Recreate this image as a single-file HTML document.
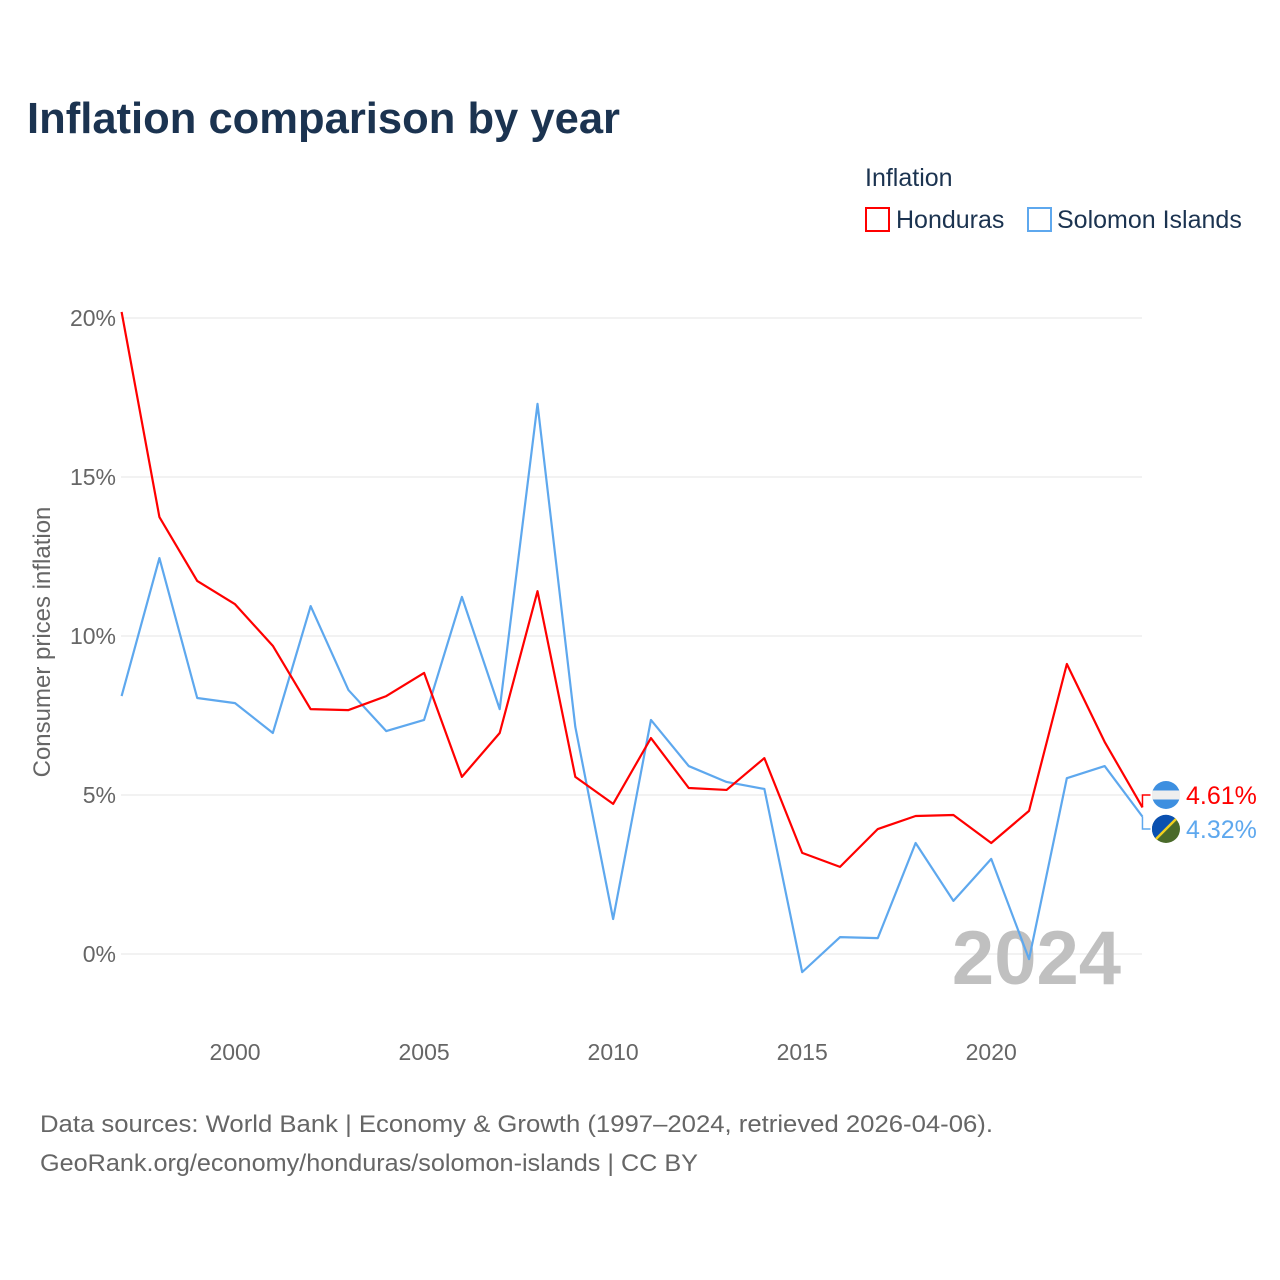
<!DOCTYPE html>
<html><head><meta charset="utf-8"><style>
body{margin:0;background:#fff;font-family:"Liberation Sans",sans-serif}
#wrap{position:relative;width:1280px;height:1280px;overflow:hidden}
</style></head><body>
<div id="wrap">
<svg id="chart" width="1280" height="1280">
<text x="27" y="133" font-size="44" font-weight="bold" fill="#1b3350" textLength="593" lengthAdjust="spacingAndGlyphs">Inflation comparison by year</text>
<text x="865" y="186" font-size="25" fill="#1b3350">Inflation</text>
<g><rect x="866" y="208" width="23" height="23" fill="#fff" stroke="#ff0000" stroke-width="2"/><text x="896" y="228" font-size="25" fill="#1b3350">Honduras</text></g>
<g><rect x="1028" y="208" width="23" height="23" fill="#fff" stroke="#5ea8ee" stroke-width="2"/><text x="1057" y="228" font-size="25" fill="#1b3350">Solomon Islands</text></g>
<text transform="translate(50,642) rotate(-90)" text-anchor="middle" font-size="24" fill="#666">Consumer prices inflation</text>
<g id="grid"></g><g id="xt"></g>
<text x="1121" y="984" text-anchor="end" font-size="76" font-weight="bold" fill="#c0c0c0">2024</text>
<g id="lines"></g>
<text x="40" y="1132" font-size="24" fill="#666" textLength="953" lengthAdjust="spacingAndGlyphs">Data sources: World Bank | Economy &amp; Growth (1997–2024, retrieved 2026-04-06).</text>
<text x="40" y="1171" font-size="24" fill="#666" textLength="658" lengthAdjust="spacingAndGlyphs">GeoRank.org/economy/honduras/solomon-islands | CC BY</text>
</svg></div>
<script>
const years=[1997,1998,1999,2000,2001,2002,2003,2004,2005,2006,2007,2008,2009,2010,2011,2012,2013,2014,2015,2016,2017,2018,2019,2020,2021,2022,2023,2024];
const honduras=[20.19,13.74,11.73,11.0,9.69,7.70,7.67,8.11,8.84,5.57,6.95,11.41,5.57,4.72,6.79,5.22,5.16,6.16,3.18,2.74,3.93,4.34,4.37,3.49,4.50,9.12,6.67,4.61];
const solomon=[8.11,12.45,8.05,7.89,6.95,10.94,8.30,7.01,7.36,11.23,7.70,17.30,7.14,1.10,7.36,5.91,5.41,5.19,-0.57,0.53,0.50,3.49,1.67,2.99,-0.16,5.53,5.91,4.32];
const yTicks=[0,5,10,15,20];
const xTicks=[2000,2005,2010,2015,2020];
const NS="http://www.w3.org/2000/svg";
const X=y=>121.6+(y-1997)*37.81, Y=v=>954-v*31.8;
function mk(t,a,p){const e=document.createElementNS(NS,t);for(const k in a)e.setAttribute(k,a[k]);p.appendChild(e);return e;}
const grid=document.getElementById('grid'),xt=document.getElementById('xt'),lines=document.getElementById('lines');
yTicks.forEach(v=>{
 const l=mk('line',{x1:121,x2:1142,y1:Y(v),y2:Y(v),stroke:'#e6e6e6','stroke-width':1},grid);
 
 
 const t=mk('text',{x:116,y:Y(v)+8,'text-anchor':'end','font-size':23,fill:'#666'},grid);
 t.textContent=v+'%';
 
 
});
xTicks.forEach(v=>{
 const t=mk('text',{x:X(v),y:1060,'text-anchor':'middle','font-size':23,fill:'#666'},xt);
 t.textContent=v;
 
 
});
function series(d,c,name){
 const p=mk('polyline',{points:d.map((v,i)=>X(years[i])+','+Y(v)).join(' '),fill:'none',stroke:c,'stroke-width':2.2,'stroke-linejoin':'round'},lines);
 
 
}
series(solomon,'#5ea8ee','solomon-islands');
series(honduras,'#ff0000','honduras');
const lx=X(2024);
function endLabel(v,ly,c,name,flag){
 const g=mk('g',{},lines);
 
 
 mk('polyline',{points:`${lx},${Y(v)} ${lx},${ly} ${lx+8},${ly}`,fill:'none',stroke:c,'stroke-width':1.5},g);
 flag(g,1166,ly);
 const t=mk('text',{x:1186,y:ly+9,'font-size':25,fill:c},g);
 t.textContent=v.toFixed(2)+'%';
}
endLabel(honduras[27],795,'#ff0000','honduras',(g,cx,cy)=>{
 mk('circle',{cx,cy,r:14,fill:'#3d8fe0'},g);
 mk('rect',{x:cx-14,y:cy-4.5,width:28,height:9,fill:'#eee'},g);
});
endLabel(solomon[27],829,'#5ea8ee','solomon-islands',(g,cx,cy)=>{
 mk('circle',{cx,cy,r:14,fill:'#4a6a2a'},g);
 mk('path',{d:`M${cx-14},${cy} A14,14 0 0 1 ${cx+10},${cy-10} L${cx-10},${cy+10} A14,14 0 0 1 ${cx-14},${cy}Z`,fill:'#0a50b0'},g);
 mk('line',{x1:cx-10,y1:cy+10,x2:cx+10,y2:cy-10,stroke:'#f0d020','stroke-width':2.5},g);
});
</script></body></html>
